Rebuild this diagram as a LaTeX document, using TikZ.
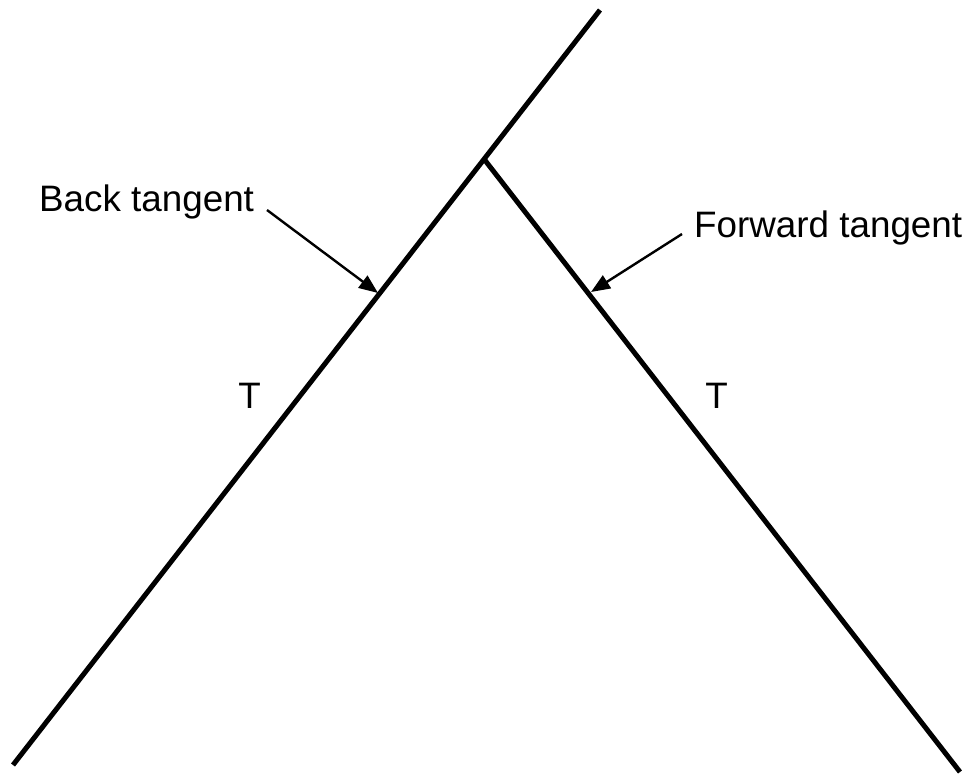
\documentclass[tikz,border=0pt]{standalone}
\usepackage{fontspec}
\setmainfont{Liberation Sans}
\usetikzlibrary{arrows.meta}
\begin{document}
\begin{tikzpicture}[x=1pt,y=-1pt,
  tangentline/.style={line width=5pt, line cap=butt},
  pointer/.style={line width=2.4pt, -{Triangle[length=19pt,width=15pt]}},
  lbl/.style={inner sep=0pt, font=\fontsize{36.8}{40}\selectfont}]
\useasboundingbox (0,0) rectangle (979,777);
\coordinate (lb) at (13,765);
\coordinate (lt) at (600,10);
\coordinate (j) at (484,159);
\coordinate (rb) at (960,772);
\draw[tangentline] (lb) -- (lt);
\draw[tangentline] (j) -- (rb);
\node[lbl, anchor=base west] (bt) at (39,211.5) {Back tangent};
\node[lbl, anchor=base west] (ft) at (694,237) {Forward tangent};
\node[lbl, anchor=base] (t1) at (249.5,408) {T};
\node[lbl, anchor=base] (t2) at (716.5,408) {T};
\coordinate (bs) at (267,210);
\coordinate (btip) at (378,293);
\coordinate (fs) at (682,234);
\coordinate (ftip) at (591,292);
\draw[pointer] (bs) -- (btip);
\draw[pointer] (fs) -- (ftip);
\end{tikzpicture}
\end{document}
